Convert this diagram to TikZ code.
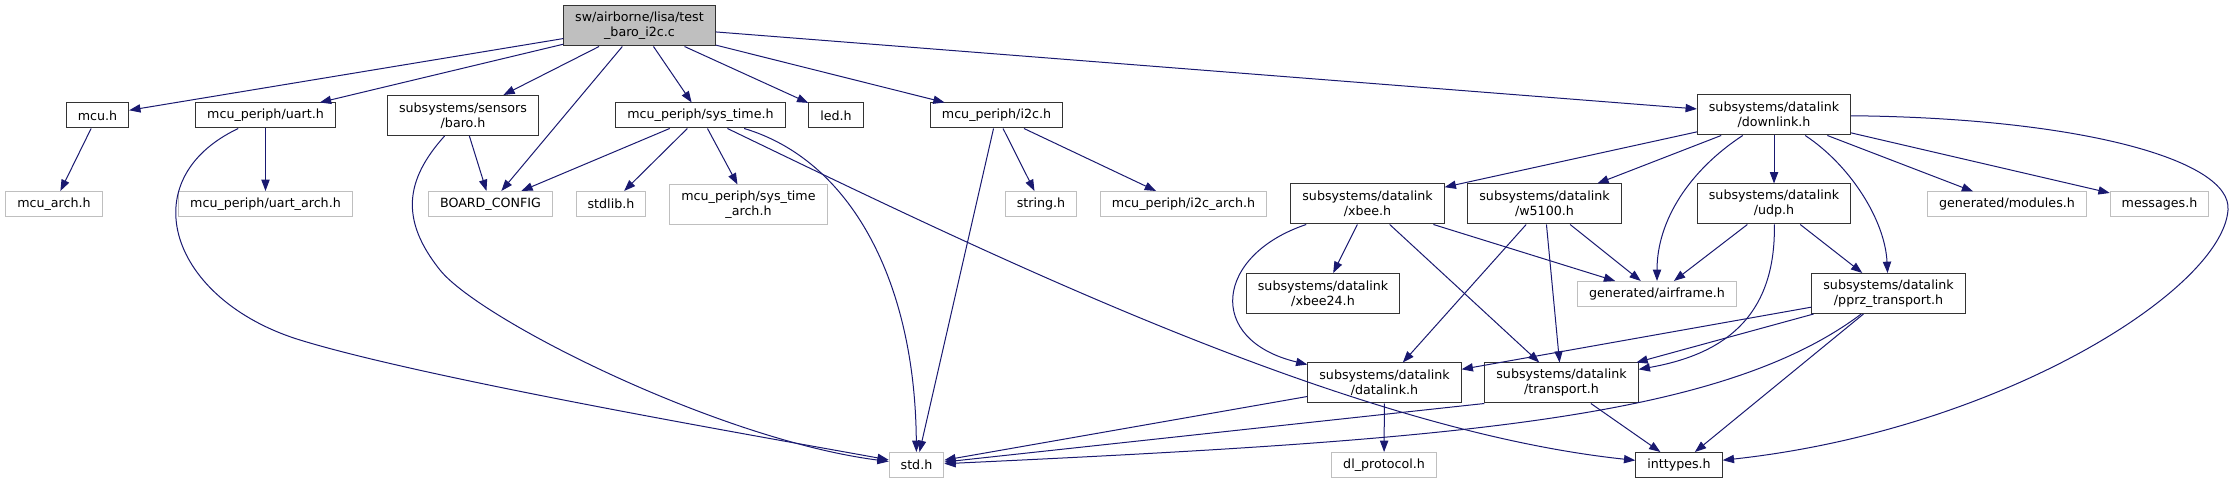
\documentclass[tikz,border=0pt]{standalone}
\usepackage{fontspec}
\setmainfont{DejaVu Sans}
\usetikzlibrary{arrows.meta}

\definecolor{edgeBlue}{HTML}{191970}
\definecolor{extGray}{HTML}{BFBFBF}

\begin{document}
\begin{tikzpicture}[
        x=0.75pt, y=-0.75pt,
        fileBox/.style={
            draw=black!80,
            line width=0.75pt,
            minimum height=18.75pt,
            inner xsep=8.6pt,
            inner ysep=0pt,
            align=center,
            font=\fontsize{9.5}{11.25}\selectfont
        },
        twoLine/.style={
            minimum height=30pt
        },
        extBox/.style={
            fileBox,
            draw=extGray
        },
        rootBox/.style={
            fileBox,
            twoLine,
            fill=extGray
        },
        dep/.style={
            draw=edgeBlue,
            line width=0.75pt,
            -{Triangle[length=8.5pt,width=6.2pt,fill=edgeBlue]}
        }
    ]

        \useasboundingbox (0,0) rectangle (2234,484);

        % Source file
        \node[rootBox] (root) at (639.5,26) {sw/airborne/lisa/test\\\_baro\_i2c.c};

        % Row 1
        \node[fileBox] (mcu) at (97.5,115.5) {mcu.h};
        \node[fileBox] (uart) at (265.5,115.5) {mcu\_periph/uart.h};
        \node[fileBox, twoLine] (baro) at (463,115.5) {subsystems/sensors\\/baro.h};
        \node[fileBox] (sysTime) at (700.5,115.5) {mcu\_periph/sys\_time.h};
        \node[fileBox] (led) at (836,115.5) {led.h};
        \node[fileBox] (iic) at (996.5,115.5) {mcu\_periph/i2c.h};
        \node[fileBox, twoLine] (downlink) at (1774,115) {subsystems/datalink\\/downlink.h};

        % Row 2
        \node[extBox] (mcuArch) at (54,204) {mcu\_arch.h};
        \node[extBox] (uartArch) at (265.5,204) {mcu\_periph/uart\_arch.h};
        \node[extBox] (boardConfig) at (490.5,204) {BOARD\_CONFIG};
        \node[extBox] (stdlib) at (611,204) {stdlib.h};
        \node[extBox, twoLine] (sysTimeArch) at (748.5,205) {mcu\_periph/sys\_time\\\_arch.h};
        \node[extBox] (string) at (1041,204) {string.h};
        \node[extBox] (i2cArch) at (1183.5,204) {mcu\_periph/i2c\_arch.h};
        \node[fileBox, twoLine] (xbee) at (1367.5,204) {subsystems/datalink\\/xbee.h};
        \node[fileBox, twoLine] (w5100) at (1544.5,204) {subsystems/datalink\\/w5100.h};
        \node[fileBox, twoLine] (udp) at (1774,204) {subsystems/datalink\\/udp.h};
        \node[extBox] (modules) at (2007,204.5) {generated/modules.h};
        \node[extBox] (messages) at (2159.5,204.5) {messages.h};

        % Row 3
        \node[fileBox, twoLine] (xbee24) at (1323,293.5) {subsystems/datalink\\/xbee24.h};
        \node[extBox] (airframe) at (1657,294) {generated/airframe.h};
        \node[fileBox, twoLine] (pprz) at (1888.5,293.5) {subsystems/datalink\\/pprz\_transport.h};

        % Row 4
        \node[fileBox, twoLine] (datalink) at (1384.5,383) {subsystems/datalink\\/datalink.h};
        \node[fileBox, twoLine] (transport) at (1561.5,383) {subsystems/datalink\\/transport.h};

        % Row 5
        \node[extBox] (std) at (916.5,465) {std.h};
        \node[extBox] (dlProtocol) at (1384,465) {dl\_protocol.h};
        \node[fileBox] (inttypes) at (1679,465) {inttypes.h};

        % Includes of the source file
        \foreach \target in {mcu, uart, baro, boardConfig, sysTime, led, iic, downlink}
            \draw[dep] (root) -- (\target);

        % Left part
        \draw[dep] (mcu) -- (mcuArch);
        \draw[dep] (uart) -- (uartArch);
        \draw[dep] (uart) .. controls (130,180) and (170,300) .. (300,340)
            .. controls (430,380) and (780,440) .. (std);
        \draw[dep] (baro) -- (boardConfig);
        \draw[dep] (baro) .. controls (405,180) and (400,220) .. (440,270)
            .. controls (480,320) and (720,440) .. (std);
        \foreach \target in {boardConfig, stdlib, sysTimeArch}
            \draw[dep] (sysTime) -- (\target);
        \draw[dep] (sysTime) .. controls (850,160) and (915,280) .. (std);
        \draw[dep] (sysTime) .. controls (1000,260) and (1350,430) .. (inttypes);
        \foreach \target in {std, string, i2cArch}
            \draw[dep] (iic) -- (\target);

        % Datalink part
        \foreach \target in {xbee, w5100, udp, modules, messages}
            \draw[dep] (downlink) -- (\target);
        \draw[dep] (downlink) .. controls (1690,170) and (1657,220) .. (airframe);
        \draw[dep] (downlink) .. controls (1850,165) and (1885,220) .. (pprz);
        \draw[dep] (downlink) .. controls (2080,118) and (2232,160) .. (2228,210)
            .. controls (2222,290) and (2000,430) .. (inttypes);

        \foreach \target in {xbee24, transport, airframe}
            \draw[dep] (xbee) -- (\target);
        \draw[dep] (xbee) .. controls (1215,255) and (1205,340) .. (datalink);
        \foreach \target in {datalink, transport, airframe}
            \draw[dep] (w5100) -- (\target);
        \draw[dep] (udp) -- (airframe);
        \draw[dep] (udp) -- (pprz);
        \draw[dep] (udp) .. controls (1776,320) and (1720,355) .. (transport);
        \foreach \target in {datalink, transport, inttypes}
            \draw[dep] (pprz) -- (\target);
        \draw[dep] (pprz) .. controls (1720,420) and (1450,440) .. (std);

        \draw[dep] (datalink) -- (std);
        \draw[dep] (datalink) -- (dlProtocol);
        \draw[dep] (transport.south west) -- (std);
        \draw[dep] (transport) -- (inttypes);

    \end{tikzpicture}
\end{document}
